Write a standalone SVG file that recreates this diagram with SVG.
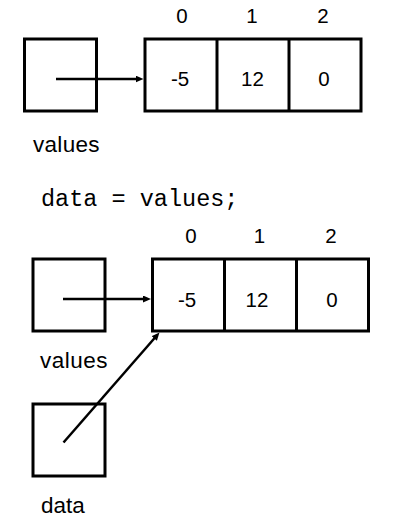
<svg xmlns="http://www.w3.org/2000/svg" width="405" height="521" viewBox="0 0 405 521">
<style>
.box{fill:none;stroke:#000;stroke-width:3}
.conn{fill:none;stroke:#000;stroke-width:2.5}
.lbl{font-family:"Liberation Sans",Arial,sans-serif;font-size:22.5px;fill:#000}
.num{font-family:"Liberation Sans",Arial,sans-serif;font-size:20.5px;fill:#000;text-anchor:middle}
.code{font-family:"Liberation Mono","Courier New",monospace;font-size:23.5px;fill:#000}
</style>
<defs>
<marker id="ah" markerUnits="userSpaceOnUse" markerWidth="9" markerHeight="8" refX="2" refY="3.5" orient="auto">
<path d="M0,0 L8,3.5 L0,7 z" fill="#000"/>
</marker>
</defs>
<rect width="405" height="521" fill="#fff"/>
<g id="values1">
<rect class="box" x="24.5" y="39" width="72" height="72"/>
<text class="lbl" x="33" y="152" textLength="66.5">values</text>
</g>
<g id="array1">
<rect class="box" x="145" y="39" width="216" height="72"/>
<line class="box" x1="217" y1="39" x2="217" y2="111"/>
<line class="box" x1="289" y1="39" x2="289" y2="111"/>
<text class="num" x="182" y="22.7">0</text>
<text class="num" x="252" y="22.7">1</text>
<text class="num" x="323" y="22.7">2</text>
<text class="num" x="180" y="86">-5</text>
<text class="num" x="252.5" y="86">12</text>
<text class="num" x="324" y="86">0</text>
</g>
<g id="code">
<text class="code" x="41" y="205.5">data = values;</text>
</g>
<g id="values2">
<rect class="box" x="33" y="259" width="72" height="72"/>
<text class="lbl" x="40" y="368" textLength="67.5">values</text>
</g>
<g id="array2">
<rect class="box" x="152.5" y="259" width="216" height="72"/>
<line class="box" x1="224.5" y1="259" x2="224.5" y2="331"/>
<line class="box" x1="296.5" y1="259" x2="296.5" y2="331"/>
<text class="num" x="191" y="243.3">0</text>
<text class="num" x="259.5" y="243.3">1</text>
<text class="num" x="331" y="243.3">2</text>
<text class="num" x="187" y="307.3">-5</text>
<text class="num" x="257" y="307.3">12</text>
<text class="num" x="332" y="307.3">0</text>
</g>
<g id="data">
<rect class="box" x="33" y="404" width="72" height="72"/>
<text class="lbl" x="41" y="513">data</text>
</g>
<g id="connectors">
<line class="conn" x1="56" y1="79" x2="137.5" y2="79" marker-end="url(#ah)"/>
<line class="conn" x1="63" y1="299" x2="145" y2="299" marker-end="url(#ah)"/>
<line class="conn" x1="63.5" y1="442.5" x2="155.55" y2="337.02" marker-end="url(#ah)"/>
</g>
</svg>
